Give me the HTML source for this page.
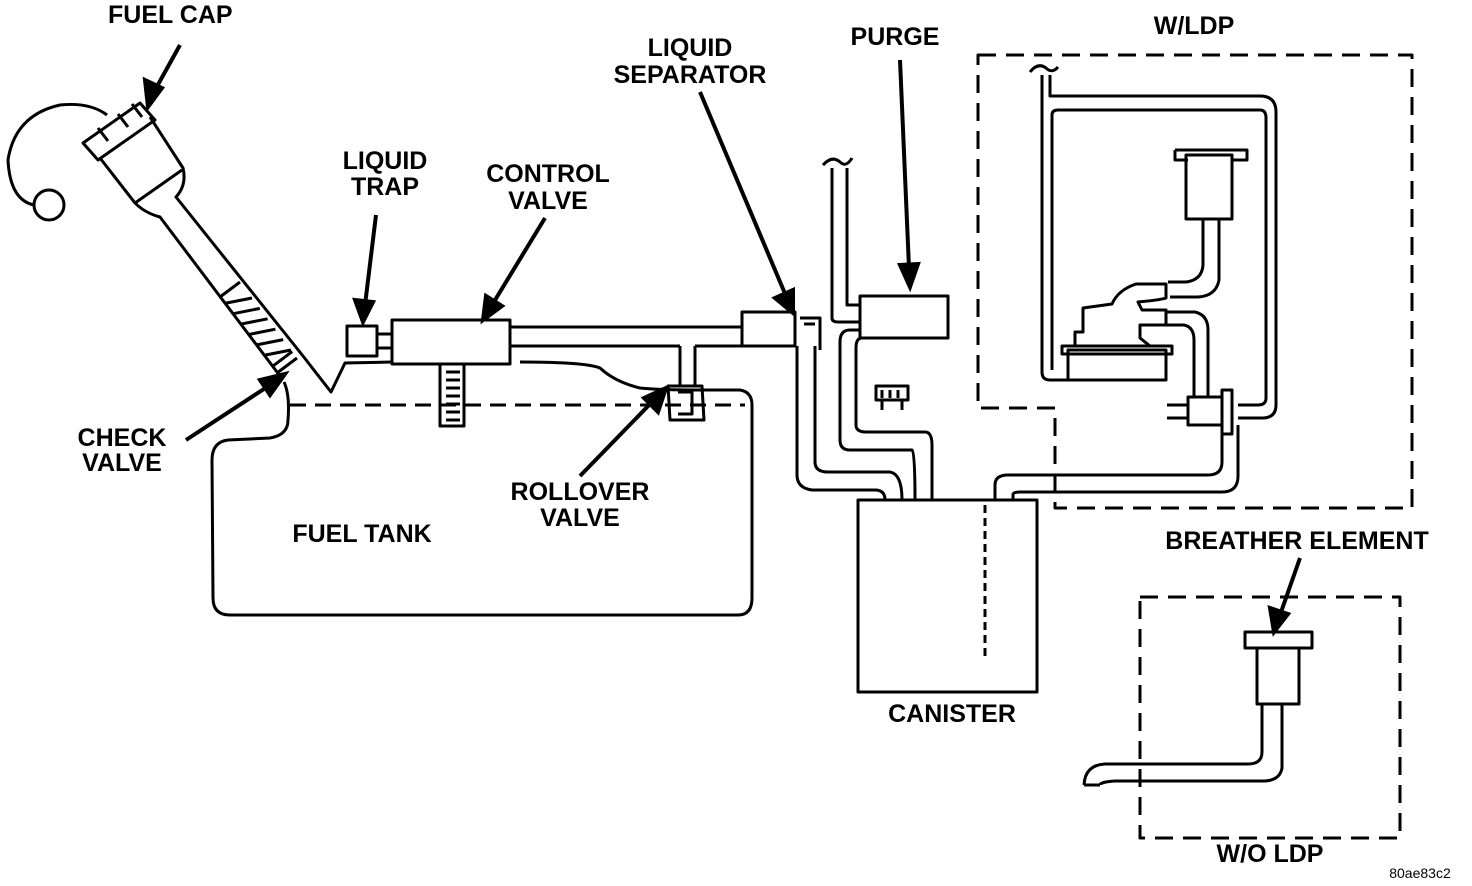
<!DOCTYPE html>
<html><head><style>
html,body{margin:0;padding:0;background:#fff}
svg{display:block}
text{font-family:"Liberation Sans",Arial,sans-serif;font-weight:bold;font-size:25px;fill:#000}
</style></head><body>
<svg width="1472" height="886" viewBox="0 0 1472 886" xmlns="http://www.w3.org/2000/svg">
<g fill="none" stroke="#000" stroke-width="3" stroke-linejoin="round">
<!-- filler neck -->
<path d="M100,158 L135,203 Q145,213 160,217 L280,376"/>
<path d="M150,117 L183,168 Q187,185 176,197 L303,356 L331,392 L345,363 L392,362"/>
<path d="M83,143 L140,103 L155,120 L98,160 Z"/>
<path d="M98,128 L108,141 M118,114 L128,127 M132,104 L142,117"/>
<path d="M135,203 L182,170"/>
<g transform="translate(160,217) rotate(53.13)">
<path d="M100,0 L100,-25 M187,0 L187,-25 M195,0 L195,-25"/>
<path d="M108,0 L120,-25 M121,0 L133,-25 M134,0 L146,-25 M147,0 L159,-25 M160,0 L172,-25 M173,0 L185,-25"/>
</g>
<!-- tether -->
<path d="M107,115 Q90,102 60,105 Q15,115 8,160 Q10,200 34,205"/>
<circle cx="49" cy="205" r="15"/>
<!-- tank -->
<path d="M284,382 Q290,395 288,420 Q288,435 270,438 L228,440 Q212,442 212,460 L213,598 Q213,615 230,615 L738,615 Q752,615 752,598 L752,405 Q752,392 740,390 L700,390 Q660,390 640,388 Q615,382 600,368 Q585,362 520,362"/>
<path d="M290,405 L745,405" stroke-dasharray="16,9"/>
<!-- liquid trap + control valve -->
<rect x="347" y="326" width="30" height="30"/>
<path d="M377,334 L392,334 M377,348 L392,348"/>
<rect x="392" y="320" width="118" height="44"/>
<rect x="440" y="364" width="24" height="62"/>
<path d="M446,372 L460,372 M446,380 L460,380 M446,388 L460,388 M446,396 L460,396 M446,404 L460,404 M446,412 L460,412 M446,420 L460,420"/>
<path d="M510,327 L742,327 M510,346 L680,346 M695,346 L742,346"/>
<path d="M680,346 L680,387 M695,346 L695,387"/>
<path d="M668,386 L702,386 L704,420 L670,420 Z M678,392 L692,392 L692,414 L678,414"/>
<path d="M742,312 L742,346 L795,346 L795,312 Z M800,318 L820,318 L820,350 M804,324 L815,324"/>
<!-- separator tube to canister -->
<path d="M797,346 L797,475 Q797,488 812,490 L875,490 Q885,490 885,500"/>
<path d="M815,346 L815,462 Q815,472 828,472 L890,472 Q902,474 902,500"/>
<!-- purge -->
<path d="M832,168 L832,318 Q832,322 838,322 L860,322 M847,168 L847,305 L860,305"/>
<path d="M823,165 Q832,155 840,162 Q846,168 852,158"/>
<rect x="860" y="296" width="88" height="42"/>
<path d="M860,330 L850,330 Q840,330 840,342 L840,440 Q840,450 850,450 L912,450 Q915,452 915,500"/>
<path d="M860,338 L862,338 Q856,338 856,348 L856,425 Q856,432 866,432 L925,432 Q932,432 932,445 L932,500"/>
<rect x="876" y="386" width="32" height="14"/>
<path d="M882,400 L882,410 M902,400 L902,410 M882,390 L882,398 M890,390 L890,398 M898,390 L898,398"/>
<!-- canister -->
<rect x="858" y="500" width="179" height="192"/>
<path d="M985,505 L985,660" stroke-dasharray="8,5"/>
<path d="M995,500 L995,485 Q995,475 1008,475 L1208,475 Q1222,475 1222,462 L1222,425"/>
<path d="M1013,500 L1013,495 Q1013,492 1020,492 L1222,492 Q1238,492 1238,476 L1238,425"/>
<!-- LDP box -->
<path d="M978,55 L1412,55 L1412,508 L1055,508 L1055,408 L978,408 Z" stroke-dasharray="18,10"/>
<!-- LDP internals -->
<path d="M1042,75 L1042,372 Q1042,380 1050,380 L1068,380"/>
<path d="M1030,72 Q1038,62 1046,68 Q1052,74 1058,67"/>
<path d="M1050,75 L1050,96 L1260,96 Q1276,96 1276,112 L1276,405 Q1276,418 1262,418 L1238,418"/>
<path d="M1052,370 L1052,115 Q1052,110 1058,110 L1260,110 Q1266,110 1266,118 L1266,398 Q1266,405 1258,405 L1238,405"/>
<path d="M1175,150 L1247,150 L1247,160 L1232,160 M1175,150 L1175,160 L1188,160"/>
<rect x="1186" y="155" width="46" height="64"/>
<path d="M1203,219 L1203,265 Q1202,280 1186,282 L1168,282 M1219,219 L1219,280 Q1216,296 1198,297 L1170,297"/>
<rect x="1068" y="350" width="98" height="30"/>
<path d="M1062,346 L1172,346 L1172,354 L1062,354 Z"/>
<path d="M1075,346 L1075,332 L1083,332 L1083,308 L1112,304 Q1118,290 1136,284 L1166,284 L1166,298 Q1160,300 1138,302 L1142,310 L1166,310 L1166,325 L1140,325 L1140,338 L1150,346"/>
<path d="M1166,312 L1195,312 Q1208,315 1208,330 L1208,397 M1166,325 L1184,325 Q1194,327 1194,340 L1194,397"/>
<rect x="1188" y="397" width="34" height="28"/>
<rect x="1222" y="390" width="10" height="44"/>
<path d="M1167,405 L1188,405 M1167,418 L1188,418"/>
<!-- W/O LDP box -->
<rect x="1140" y="597" width="260" height="241" stroke-dasharray="18,10"/>
<path d="M1245,632 L1312,632 L1312,648 L1245,648 Z"/>
<rect x="1257" y="648" width="42" height="56"/>
<path d="M1262,704 L1262,752 Q1262,764 1248,764 L1105,764 Q1085,765 1084,785 M1282,704 L1282,768 Q1280,780 1265,781 L1115,781 Q1100,782 1100,785 M1084,785 L1100,785"/>
</g>
<!-- arrows -->
<g stroke="#000" stroke-width="4" fill="#000">
<line x1="180" y1="45" x2="155" y2="90"/><path d="M148,107 L145,80 L162,88 Z"/>
<line x1="376" y1="215" x2="365" y2="305"/><path d="M363,322 L355,300 L373,302 Z"/>
<line x1="545" y1="218" x2="492" y2="305"/><path d="M483,320 L486,296 L502,306 Z"/>
<line x1="700" y1="92" x2="786" y2="296"/><path d="M793,313 L775,298 L793,290 Z"/>
<line x1="900" y1="60" x2="909" y2="268"/><path d="M910,287 L900,265 L918,264 Z"/>
<line x1="186" y1="440" x2="270" y2="385"/><path d="M285,374 L270,395 L260,380 Z"/>
<line x1="580" y1="476" x2="652" y2="402"/><path d="M666,388 L658,412 L644,398 Z"/>
<line x1="1300" y1="558" x2="1280" y2="615"/><path d="M1274,632 L1270,608 L1288,614 Z"/>
</g>
<!-- labels -->
<text x="108" y="23">FUEL CAP</text>
<text x="385" y="169" text-anchor="middle">LIQUID</text>
<text x="385" y="195" text-anchor="middle">TRAP</text>
<text x="548" y="182" text-anchor="middle">CONTROL</text>
<text x="548" y="209" text-anchor="middle">VALVE</text>
<text x="690" y="56" text-anchor="middle">LIQUID</text>
<text x="690" y="83" text-anchor="middle">SEPARATOR</text>
<text x="895" y="45" text-anchor="middle">PURGE</text>
<text x="1194" y="34" text-anchor="middle">W/LDP</text>
<text x="122" y="446" text-anchor="middle">CHECK</text>
<text x="122" y="471" text-anchor="middle">VALVE</text>
<text x="580" y="500" text-anchor="middle">ROLLOVER</text>
<text x="580" y="526" text-anchor="middle">VALVE</text>
<text x="362" y="542" text-anchor="middle">FUEL TANK</text>
<text x="952" y="722" text-anchor="middle">CANISTER</text>
<text x="1297" y="549" text-anchor="middle">BREATHER ELEMENT</text>
<text x="1270" y="862" text-anchor="middle">W/O LDP</text>
<text x="1420" y="878" text-anchor="middle" style="font-weight:normal;font-size:14px">80ae83c2</text>
</svg>
</body></html>
